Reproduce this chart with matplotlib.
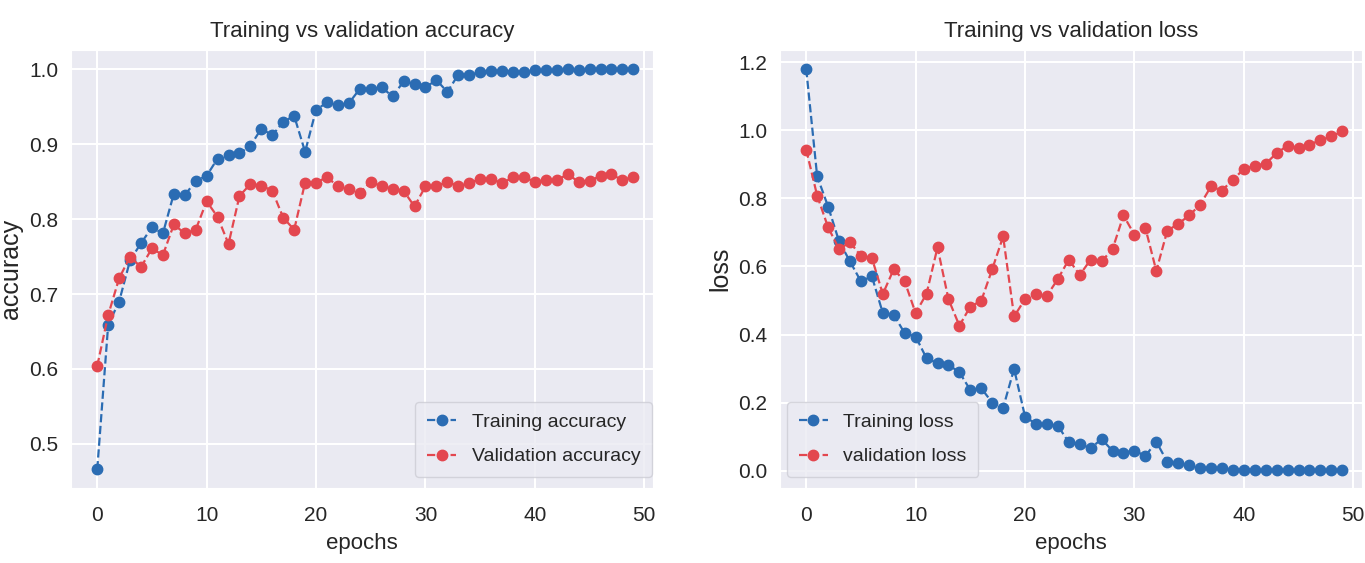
import numpy as np
import matplotlib
matplotlib.use('Agg')
import matplotlib.pyplot as plt
import seaborn as sns

# values
epochs = list(range(50))

train_acc = [0.466, 0.659, 0.690, 0.745, 0.768, 0.789, 0.781, 0.834, 0.832, 0.851,
             0.858, 0.881, 0.886, 0.888, 0.898, 0.921, 0.912, 0.930, 0.938, 0.890,
             0.946, 0.956, 0.952, 0.955, 0.974, 0.974, 0.976, 0.964, 0.984, 0.981,
             0.976, 0.986, 0.970, 0.993, 0.993, 0.996, 0.998, 0.998, 0.997, 0.997,
             0.999, 0.999, 0.999, 1.000, 0.999, 1.000, 1.000, 1.000, 1.000, 1.000]
val_acc = [0.604, 0.672, 0.721, 0.750, 0.736, 0.761, 0.752, 0.793, 0.781, 0.786,
           0.824, 0.803, 0.767, 0.831, 0.847, 0.845, 0.838, 0.802, 0.786, 0.849,
           0.849, 0.856, 0.844, 0.840, 0.835, 0.850, 0.844, 0.841, 0.838, 0.817,
           0.844, 0.844, 0.850, 0.844, 0.848, 0.854, 0.854, 0.848, 0.856, 0.856,
           0.850, 0.852, 0.852, 0.860, 0.850, 0.851, 0.858, 0.860, 0.852, 0.857]

train_loss = [1.180, 0.865, 0.776, 0.674, 0.615, 0.556, 0.571, 0.463, 0.458, 0.404,
              0.394, 0.330, 0.316, 0.311, 0.289, 0.237, 0.242, 0.200, 0.185, 0.299,
              0.159, 0.137, 0.137, 0.132, 0.083, 0.078, 0.066, 0.093, 0.058, 0.053,
              0.059, 0.043, 0.085, 0.026, 0.022, 0.017, 0.007, 0.007, 0.007, 0.003,
              0.003, 0.002, 0.002, 0.002, 0.002, 0.002, 0.001, 0.001, 0.001, 0.001]
val_loss = [0.943, 0.808, 0.715, 0.651, 0.671, 0.631, 0.625, 0.519, 0.592, 0.556,
            0.463, 0.520, 0.656, 0.504, 0.426, 0.482, 0.499, 0.592, 0.688, 0.453,
            0.504, 0.520, 0.514, 0.563, 0.620, 0.575, 0.620, 0.615, 0.651, 0.750,
            0.693, 0.713, 0.587, 0.705, 0.725, 0.750, 0.781, 0.835, 0.823, 0.855,
            0.886, 0.896, 0.902, 0.933, 0.955, 0.948, 0.958, 0.971, 0.982, 0.997]

acc_ticks = [0.5, 0.6, 0.7, 0.8, 0.9, 1.0]
loss_ticks = [0.0, 0.2, 0.4, 0.6, 0.8, 1.0, 1.2]
x_ticks = [0, 10, 20, 30, 40, 50]

BLUE = '#2b6cb3'
RED = '#e3474f'

sns.set_style('darkgrid')
plt.rcParams['font.family'] = ['Liberation Sans', 'DejaVu Sans']
plt.rcParams['text.color'] = '.15'
plt.rcParams['axes.labelcolor'] = '.15'
plt.rcParams['xtick.color'] = '.15'
plt.rcParams['ytick.color'] = '.15'

fig = plt.figure(figsize=(13.65, 5.63), dpi=100)
ax1 = fig.add_axes([0.052, 0.1332, 0.4264, 0.778])
ax2 = fig.add_axes([0.5714, 0.1332, 0.4264, 0.778])

line_kw = dict(linestyle='--', marker='o', markersize=7.5, linewidth=1.6)
leg_kw = dict(borderaxespad=0, fontsize=14, handlelength=1.5, labelspacing=0.85,
              borderpad=0.6, frameon=True, facecolor='#EAEAF2', edgecolor='#cdcdd5')

ax1.plot(epochs, train_acc, color=BLUE, label='Training accuracy', **line_kw)
ax1.plot(epochs, val_acc, color=RED, label='Validation accuracy', **line_kw)
ax1.set_ylim(0.441, 1.026)
ax1.set_yticks(acc_ticks)
ax1.set_yticklabels([f'{t:.1f}' for t in acc_ticks])
ax1.set_title('Training vs validation accuracy', fontsize=16, pad=9)
ax1.set_ylabel('accuracy', fontsize=18)
ax1.legend(loc='lower right', bbox_to_anchor=(0.4777, 0.1528),
           bbox_transform=fig.transFigure, **leg_kw)

ax2.plot(epochs, train_loss, color=BLUE, label='Training loss', **line_kw)
ax2.plot(epochs, val_loss, color=RED, label='validation loss', **line_kw)
ax2.set_ylim(-0.051, 1.236)
ax2.set_yticks(loss_ticks)
ax2.set_yticklabels([f'{t:.1f}' for t in loss_ticks])
ax2.set_title('Training vs validation loss', fontsize=16, pad=9)
ax2.set_ylabel('loss', fontsize=18)
ax2.legend(loc='lower left', bbox_to_anchor=(0.5766, 0.1528),
           bbox_transform=fig.transFigure, **leg_kw)

for ax in (ax1, ax2):
    ax.set_xlim(-2.4, 50.8)
    ax.set_xticks(x_ticks)
    ax.set_xlabel('epochs', fontsize=16, labelpad=6)
    ax.yaxis.set_label_coords(-0.082, 0.5)
    ax.tick_params(axis='both', labelsize=15, length=0)
    ax.tick_params(axis='x', pad=13)
    ax.tick_params(axis='y', pad=9)
    ax.grid(True, color='white', linewidth=1.5)

fig.savefig('out.png', dpi=100)
